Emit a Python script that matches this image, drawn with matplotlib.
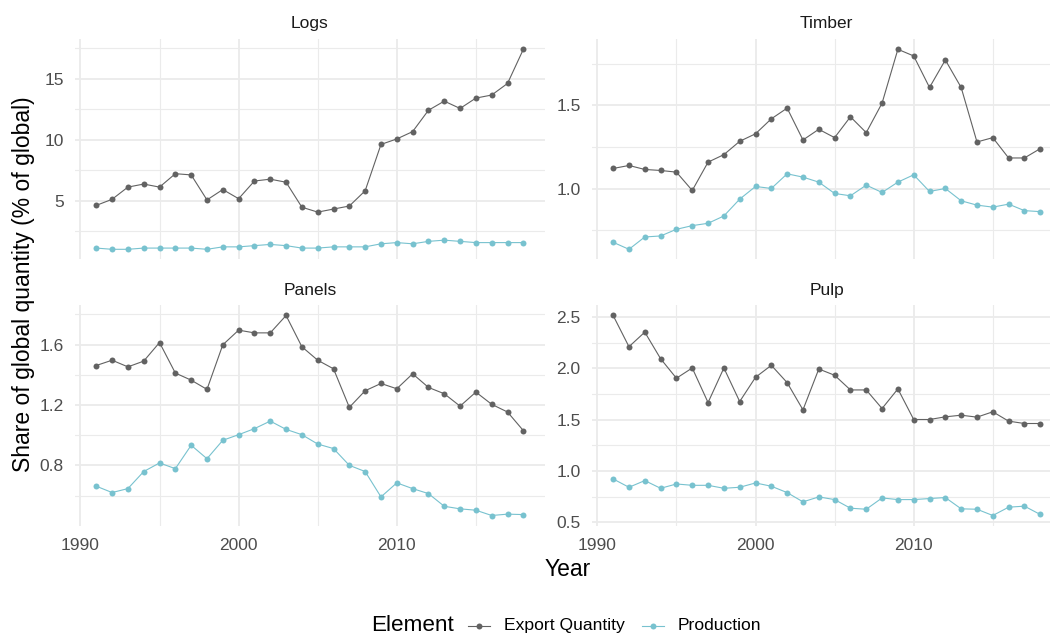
import matplotlib
matplotlib.use("Agg")
import matplotlib.pyplot as plt
from matplotlib.lines import Line2D
from matplotlib.ticker import MultipleLocator, FormatStrFormatter

plt.rcParams['font.family'] = ['Liberation Sans', 'DejaVu Sans']

years = list(range(1991, 2019))

logs_export = [4.6, 5.1, 6.1, 6.35, 6.1, 7.2, 7.1, 5.05, 5.9, 5.15, 6.6, 6.75, 6.5, 4.45,
               4.05, 4.3, 4.55, 5.8, 9.6, 10.05, 10.65, 12.4, 13.15, 12.55, 13.4, 13.65, 14.6, 17.4]
logs_production = [1.1, 1.0, 1.0, 1.1, 1.1, 1.1, 1.1, 1.0, 1.2, 1.2, 1.3, 1.4, 1.3, 1.1,
                   1.1, 1.2, 1.2, 1.2, 1.45, 1.55, 1.45, 1.65, 1.75, 1.65, 1.55, 1.55, 1.55, 1.55]

timber_export = [1.122, 1.14, 1.116, 1.11, 1.10, 0.99, 1.16, 1.205, 1.285, 1.33, 1.42, 1.484,
                 1.293, 1.357, 1.307, 1.432, 1.337, 1.514, 1.837, 1.797, 1.608, 1.773, 1.608,
                 1.281, 1.307, 1.185, 1.185, 1.241]
timber_production = [0.679, 0.637, 0.711, 0.717, 0.757, 0.779, 0.793, 0.837, 0.938, 1.014,
                     1.002, 1.09, 1.07, 1.04, 0.972, 0.958, 1.022, 0.978, 1.04, 1.084, 0.984,
                     1.002, 0.928, 0.902, 0.89, 0.908, 0.869, 0.863]

panels_export = [1.461, 1.496, 1.452, 1.49, 1.613, 1.411, 1.364, 1.303, 1.598, 1.695, 1.677,
                 1.677, 1.792, 1.585, 1.496, 1.439, 1.184, 1.294, 1.342, 1.307, 1.406, 1.316,
                 1.274, 1.192, 1.285, 1.204, 1.153, 1.03]
panels_production = [0.662, 0.620, 0.646, 0.759, 0.816, 0.778, 0.933, 0.844, 0.966, 1.003,
                     1.043, 1.093, 1.038, 1.003, 0.941, 0.911, 0.80, 0.759, 0.591, 0.684, 0.646,
                     0.613, 0.529, 0.512, 0.503, 0.468, 0.477, 0.474]

pulp_export = [2.516, 2.212, 2.354, 2.095, 1.905, 2.005, 1.668, 2.005, 1.678, 1.914, 2.031,
               1.862, 1.597, 1.995, 1.934, 1.791, 1.791, 1.61, 1.801, 1.503, 1.503, 1.529,
               1.545, 1.526, 1.578, 1.487, 1.464, 1.464]
pulp_production = [0.924, 0.843, 0.908, 0.833, 0.875, 0.862, 0.862, 0.833, 0.843, 0.885,
                   0.853, 0.791, 0.701, 0.749, 0.723, 0.639, 0.629, 0.739, 0.723, 0.723, 0.733,
                   0.743, 0.633, 0.629, 0.568, 0.649, 0.659, 0.578]

facets = ["Logs", "Timber", "Panels", "Pulp"]
elements = ["Export Quantity", "Production"]
series = {
    "Logs": (logs_export, logs_production),
    "Timber": (timber_export, timber_production),
    "Panels": (panels_export, panels_production),
    "Pulp": (pulp_export, pulp_production),
}
major_step = {"Logs": 5, "Timber": 0.5, "Panels": 0.4, "Pulp": 0.5}
colors = ["#626262", "#78c2cf"]

GRID = "#EBEBEB"
TICK_COLOR = "#4D4D4D"
MS = 4.3
LW = 0.8

W, H = 1050, 635
fig = plt.figure(figsize=(W / 100, H / 100), dpi=100)
fig.patch.set_facecolor("white")


def fx(px):
    return px / W


def fy(py):
    return 1 - py / H


panel_w = 469.8
panel_h = 220.0
lefts = [74.9, 591.8]
tops = [39.3, 305.5]

x0, x1 = min(years), max(years)
xpad = (x1 - x0) * 0.05

for i, name in enumerate(facets):
    row, col = divmod(i, 2)
    left = lefts[col]
    top = tops[row]
    ax = fig.add_axes([fx(left), fy(top + panel_h), panel_w / W, panel_h / H])
    ax.set_facecolor("white")
    for s in ax.spines.values():
        s.set_visible(False)

    exp_vals, prod_vals = series[name]
    for vals, c in zip((exp_vals, prod_vals), colors):
        ax.plot(years, vals, color=c, lw=LW, marker="o", ms=MS,
                markeredgewidth=0, zorder=3)

    lo = min(min(exp_vals), min(prod_vals))
    hi = max(max(exp_vals), max(prod_vals))
    ypad = (hi - lo) * 0.05
    ax.set_ylim(lo - ypad, hi + ypad)
    ax.set_xlim(x0 - xpad, x1 + xpad)

    step = major_step[name]
    ax.yaxis.set_major_locator(MultipleLocator(step))
    ax.yaxis.set_minor_locator(MultipleLocator(step / 2))
    ax.xaxis.set_major_locator(MultipleLocator(10))
    ax.xaxis.set_minor_locator(MultipleLocator(5))

    ax.grid(which="major", color=GRID, lw=1.3, zorder=0)
    ax.grid(which="minor", color=GRID, lw=0.8, zorder=0)
    ax.set_axisbelow(True)

    ax.tick_params(which="both", length=0)
    ax.tick_params(axis="y", pad=8.0, labelsize=12.5, labelcolor=TICK_COLOR)
    ax.tick_params(axis="x", pad=8.8, labelsize=12.5, labelcolor=TICK_COLOR)
    ax.yaxis.set_major_formatter(FormatStrFormatter("%.1f" if step < 1 else "%d"))
    if row == 0:
        ax.tick_params(axis="x", labelbottom=False)

    fig.text(fx(left + panel_w / 2), fy(top - 15.5), name, ha="center", va="center",
             fontsize=12.5, color="#1A1A1A")

# axis titles
fig.text(fx(568), fy(569), "Year", ha="center", va="center", fontsize=16.5, color="black")
fig.text(fx(24), fy(284), "Share of global quantity (% of global)", ha="center",
         va="center", rotation=90, fontsize=16.5, color="black")

# legend along the bottom
legend_y = fy(625.5)
fig.text(fx(371.5), legend_y, "Element", ha="left", va="center", fontsize=16.2, color="black")
key_spans = [(468, 490, 504), (641.5, 663.5, 678)]
for (ka, kb, tx), lab, c in zip(key_spans, elements, colors):
    fig.add_artist(Line2D([fx(ka), fx(kb)], [legend_y, legend_y], color=c, lw=LW,
                          transform=fig.transFigure))
    fig.add_artist(Line2D([fx((ka + kb) / 2)], [legend_y], color=c, marker="o", ms=MS,
                          markeredgewidth=0, transform=fig.transFigure))
    fig.text(fx(tx), legend_y, lab, ha="left", va="center", fontsize=12.6, color="black")

fig.savefig("out.png", dpi=100, facecolor="white")
